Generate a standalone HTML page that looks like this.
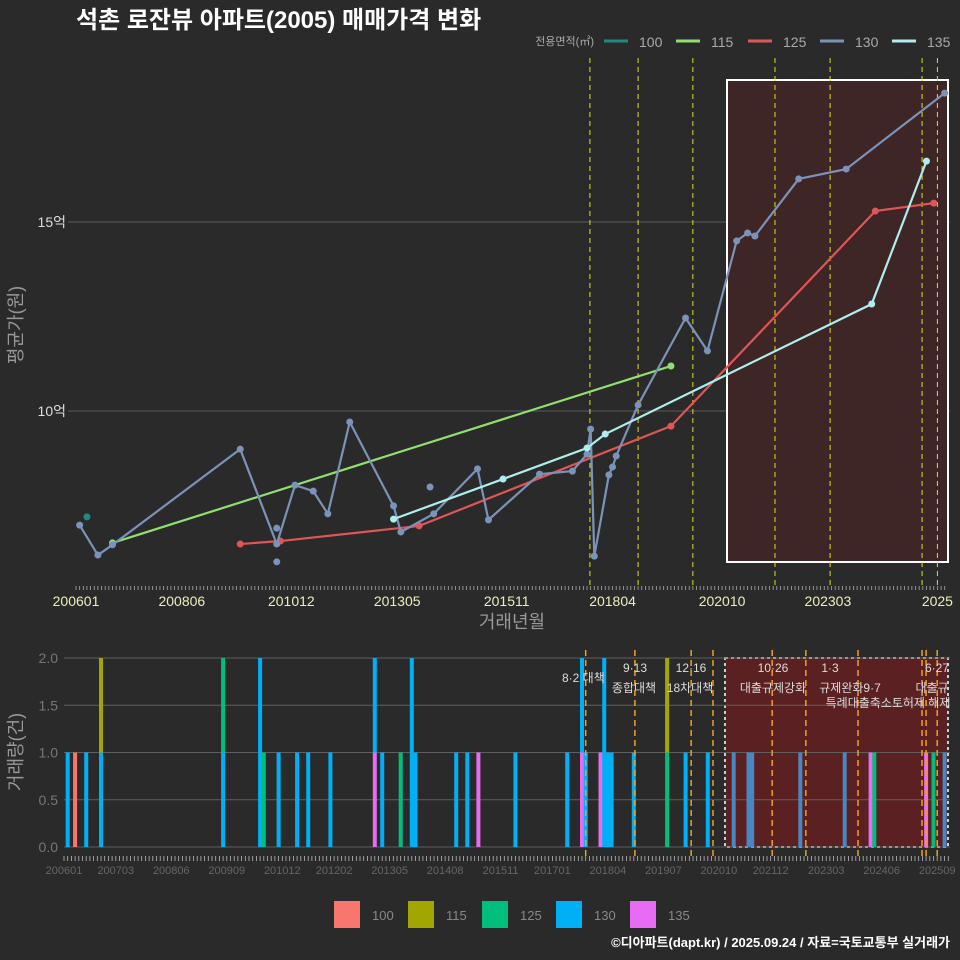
<!DOCTYPE html>
<html><head><meta charset="utf-8"><style>
body{margin:0;background:#2a2a2b;}
svg{display:block;font-family:"Liberation Sans","Noto Sans CJK KR",sans-serif;}
</style></head><body>
<svg id="c" width="960" height="960" viewBox="0 0 960 960">
<rect width="960" height="960" fill="#2a2a2b"/>
<text x="76" y="28" font-size="24" font-weight="bold" fill="#fff">석촌 로잔뷰 아파트(2005) 매매가격 변화</text>
<g id="topPanel"></g>
<g id="botPanel"></g>
<g id="legPanel"></g>
<text x="950" y="947" font-size="13" font-weight="bold" fill="#fff" text-anchor="end">©디아파트(dapt.kr) / 2025.09.24 / 자료=국토교통부 실거래가</text>
</svg>
<script>
// month index 0 = 200601
const seriesNames = ['100','115','125','130','135'];
const lineColors = ['#1f8a80','#90e070','#e05555','#7b93b8','#aeeeee'];
const barColors = ['#F8766D','#A3A500','#00BF7D','#00B0F6','#E76BF3'];
const s100Months = [3];
const s100Values = [7.20];
const s115Months = [10,163];
const s115Values = [6.51,11.19];
const s125Months = [45,56,94,163,219,235];
const s125Values = [6.48,6.56,6.96,9.60,15.29,15.50];
const s130Months = [1,6,10,45,55,60,65,69,75,87,89,98,110,113,127,136,140,141,142,146,147,148,154,167,173,181,184,186,198,211,238];
const s130Values = [6.98,6.19,6.46,8.99,6.48,8.04,7.88,7.28,9.71,7.49,6.80,7.28,8.47,7.12,8.33,8.41,8.86,9.52,6.16,8.31,8.52,8.81,10.16,12.46,11.59,14.50,14.71,14.63,16.14,16.40,18.41];
const s130ExtraMonths = [55,55,97];
const s130ExtraValues = [6.90,6.01,7.99];
const s135Months = [87,117,140,145,218,233];
const s135Values = [7.14,8.20,9.02,9.39,12.83,16.61];
const topTickMonths = [0,29,59,88,118,147,177,206,236];
const topTickLabels = ['200601','200806','201012','201305','201511','201804','202010','202303','2025'];
const yTicks = [10,15];
const yTickLabels = ['10억','15억'];
const policyMonths = [140.8,154,169,191.5,206.6,231.8,236];
const barMonths = [1,3,6,10,10,43,43,53,54,58,63,66,72,84,84,86,91,94,95,106,109,112,122,136,140,140,141,145,146,147,148,154,163,163,168,174,181,185,186,199,211,218,219,233,235,238];
const barSeries = [3,0,3,3,1,3,2,3,2,3,3,3,3,4,3,3,2,3,3,3,3,4,3,3,4,3,3,4,3,3,3,3,2,1,3,3,3,3,3,3,3,4,2,4,2,3];
const barCounts = [1,1,1,1,1,1,1,2,1,1,1,1,1,1,1,1,1,2,1,1,1,1,1,1,1,1,1,1,2,1,1,1,1,1,1,1,1,1,1,1,1,1,1,1,1,1];
const botTickMonths = [0,14,29,44,59,73,88,103,118,132,147,162,177,191,206,221,236];
const botTickLabels = ['200601','200703','200806','200909','201012','201202','201305','201408','201511','201701','201804','201907','202010','202112','202303','202406','202509'];
const volTicks = [0,0.5,1,1.5,2];
const volTickLabels = ['0.0','0.5','1.0','1.5','2.0'];
const botPolicyMonths = [141,154.3,169.5,175.4,191.4,200.5,214.6,231.9,233,236];

const NS='http://www.w3.org/2000/svg';
function mk(p,tag,a){const e=document.createElementNS(NS,tag);for(const k in a)e.setAttribute(k,a[k]);p.appendChild(e);return e;}
const xT=m=>76+m*3.65, yT=v=>411-(v-10)*37.8;
const xB=m=>64+m*3.70, yB=v=>847-v*94.5;
const topG=document.getElementById('topPanel'), botG=document.getElementById('botPanel'), legG=document.getElementById('legPanel');

yTicks.forEach((v,i)=>{
  let g=mk(topG,'line',{x1:68,x2:950,y1:yT(v),y2:yT(v),stroke:'#5a5a5a','stroke-width':1});
  
  
  let t=mk(topG,'text',{x:66,y:yT(v)+5,'font-size':14,fill:'#ddd','text-anchor':'end'});t.textContent=yTickLabels[i];
  
  
});
let hb=mk(topG,'rect',{x:727,y:80,width:221,height:482,fill:'#3e2526',stroke:'#fff','stroke-width':2});


policyMonths.forEach(m=>{
  let l=mk(topG,'line',{x1:xT(m),x2:xT(m),y1:58,y2:588,stroke:'#e0e020','stroke-width':1,'stroke-dasharray':'5,4'});
  
  
});
for(let m=0;m<=238;m++){mk(topG,'line',{x1:xT(m),x2:xT(m),y1:586,y2:590,stroke:'#aaa','stroke-width':0.8});}
topTickLabels.forEach((s,i)=>{
  let t=mk(topG,'text',{x:xT(topTickMonths[i]),y:606,'font-size':14,fill:'#eeeebb','text-anchor':'middle'});t.textContent=s;
  
  
});
let xt=mk(topG,'text',{x:512,y:628,'font-size':18,fill:'#999','text-anchor':'middle'});xt.textContent='거래년월';


let yt=mk(topG,'text',{x:22,y:325,'font-size':18,fill:'#999','text-anchor':'middle',transform:'rotate(-90 22 325)'});yt.textContent='평균가(원)';



function series(ms,vs,c,name,drawLine){
  if(drawLine&&ms.length>1){
    let p=mk(topG,'polyline',{points:ms.map((m,i)=>xT(m)+','+yT(vs[i])).join(' '),fill:'none',stroke:c,'stroke-width':2.2});
    
    
  }
  ms.forEach((m,i)=>{
    let d=mk(topG,'circle',{cx:xT(m),cy:yT(vs[i]),r:3.5,fill:c});
    
    
  });
}
series(s115Months,s115Values,lineColors[1],'115',true);
series(s125Months,s125Values,lineColors[2],'125',true);
series(s130Months,s130Values,lineColors[3],'130',true);
series(s130ExtraMonths,s130ExtraValues,lineColors[3],'130-extra',false);
series(s135Months,s135Values,lineColors[4],'135',true);
series(s100Months,s100Values,lineColors[0],'100',true);

let lt=mk(topG,'text',{x:594,y:45,'font-size':11,fill:'#aaa','text-anchor':'end'});lt.textContent='전용면적(㎡)';


seriesNames.forEach((s,i)=>{
  const x0=604+i*72;
  let l=mk(topG,'line',{x1:x0,x2:x0+24,y1:41,y2:41,stroke:lineColors[i],'stroke-width':3});
  
  
  let t=mk(topG,'text',{x:x0+35,y:47,'font-size':14,fill:'#aaa'});t.textContent=s;
  
  
});

let bb=mk(botG,'rect',{x:725,y:658,width:223,height:189,fill:'#5a2022',stroke:'#ccc','stroke-width':2,'stroke-dasharray':'3,3'});


volTicks.forEach((v,i)=>{
  let g=mk(botG,'line',{x1:64,x2:950,y1:yB(v),y2:yB(v),stroke:'#5f5f5f','stroke-width':1});
  
  
  let t=mk(botG,'text',{x:58,y:yB(v)+5,'font-size':14,fill:'#777','text-anchor':'end'});t.textContent=volTickLabels[i];
  
  
});
const stack={};
barMonths.forEach((m,i)=>{
  const base=stack[m]||0;
  const inBox=m>=179;
  let c=barColors[barSeries[i]];
  if(inBox&&barSeries[i]===3)c='#4a86c0';
  let r=mk(botG,'rect',{x:xB(m)-2,y:yB(base+barCounts[i]),width:4,height:barCounts[i]*94.5,fill:c});
  
  
  stack[m]=base+barCounts[i];
});
botPolicyMonths.forEach(m=>{
  let l=mk(botG,'line',{x1:xB(m),x2:xB(m),y1:650,y2:858,stroke:'#f0a020','stroke-width':1.5,'stroke-dasharray':'6,4'});
  
  
});
for(let m=0;m<=239;m++){mk(botG,'line',{x1:xB(m),x2:xB(m),y1:856,y2:861,stroke:'#bbb','stroke-width':0.8});}
botTickLabels.forEach((s,i)=>{
  let t=mk(botG,'text',{x:xB(botTickMonths[i]),y:874,'font-size':11,fill:'#666','text-anchor':'middle'});t.textContent=s;
  
  
});
let vt=mk(botG,'text',{x:22,y:752,'font-size':18,fill:'#999','text-anchor':'middle',transform:'rotate(-90 22 752)'});vt.textContent='거래량(건)';


const notes=[[562,682,'8·2 대책'],[635,672,'9·13'],[634,692,'종합대책'],[691,672,'12·16'],[690,692,'18차대책'],[773,672,'10·26'],[773,692,'대출규제강화'],[830,672,'1·3'],[850,692,'규제완화9·7'],[888,707,'특례대출축소토허제 해제'],[937,672,'6·27'],[932,692,'대출규']];
notes.forEach(n=>{
  let t=mk(botG,'text',{x:n[0],y:n[1],'font-size':12,fill:'#ddd','text-anchor':n[0]===562?'start':'middle'});t.textContent=n[2];
  
  
});

seriesNames.forEach((s,i)=>{
  const x0=334+i*74;
  let r=mk(legG,'rect',{x:x0,y:901,width:26,height:27,fill:barColors[i]});
  
  
  let t=mk(legG,'text',{x:x0+38,y:920,'font-size':13,fill:'#888'});t.textContent=s;
  
  
});
</script>
</body></html>
